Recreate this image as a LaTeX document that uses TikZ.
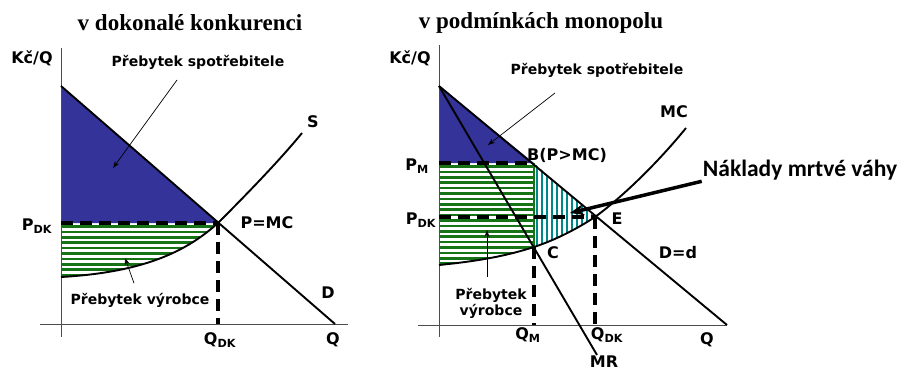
\documentclass[tikz,border=0pt]{standalone}
\usepackage{fontspec}
\setmainfont{DejaVu Sans}
\newfontfamily\titlefont{Liberation Serif}
\newfontfamily\notefont{Carlito}
\usetikzlibrary{arrows.meta}

\definecolor{csblue}{RGB}{51,51,153}
\definecolor{psgreen}{RGB}{22,115,22}
\definecolor{dwteal}{RGB}{0,135,135}

\tikzset{
  axis/.style={line width=0.8pt, black!70},
  curve/.style={line width=1.9pt},
  guide/.style={line width=3.2pt, dash pattern=on 12pt off 7pt},
  lab/.style={font=\bfseries\fontsize{16}{18}\selectfont, inner sep=1pt},
  surplus/.style={font=\bfseries\fontsize{14}{16}\selectfont, inner sep=1pt, align=center},
  headline/.style={font=\titlefont\bfseries\fontsize{23}{25}\selectfont, inner sep=1pt},
  pointer/.style={-{Stealth[length=7pt,width=5pt]}, line width=0.7pt},
  hatchh/.style={psgreen, line width=2.6pt},
  hatchv/.style={dwteal, line width=2pt},
}

\begin{document}
\begin{tikzpicture}[x=1pt, y=-1pt]
    \useasboundingbox (0,0) rectangle (903,372);

    % ---- v dokonale konkurenci ----
    \coordinate (D1top) at (61,86);
    \coordinate (E1) at (218,223);
    \coordinate (D1end) at (335,324);
    \coordinate (S1start) at (61,277);
    \coordinate (S1end) at (302,133);
    \coordinate (P1) at (61,223);
    \coordinate (Q1foot) at (218,324);

    \fill[csblue] (D1top) -- (E1) -- (P1) -- cycle; % Consumer surplus
    \begin{scope}
      \clip (P1) -- (E1) .. controls (190,248) and (150,272) .. (S1start) -- cycle;
      \foreach \y in {226.5,231.9,...,282} \draw[hatchh] (55,\y) -- (225,\y); % Producer surplus
    \end{scope}

    \draw[axis] (61,48) -- (61,337); % Price axis
    \draw[axis] (40,324) -- (348,324); % Quantity axis
    \draw[curve] (D1top) -- (D1end); % Demand
    \draw[curve] (S1start) .. controls (150,272) and (190,248) .. (E1)
                 .. controls (245,196) and (280,160) .. (S1end); % Supply
    \draw[guide] (P1) -- (E1);
    \draw[guide] (E1) -- (Q1foot);

    \node[headline] (title1) at (190,23) {v dokonalé konkurenci};
    \node[lab] (kcq1) at (32,58) {Kč/Q};
    \node[surplus] (cs1lab) at (198,62) {Přebytek spotřebitele};
    \node[lab] (slab) at (313,122) {S};
    \node[lab] (pmc) at (267,223) {P=MC};
    \node[lab] (pdk1) at (37,226) {P\textsubscript{DK}};
    \node[surplus] (ps1lab) at (140,300) {Přebytek výrobce};
    \node[lab] (d1lab) at (328,293) {D};
    \node[lab] (qdk1) at (220,340) {Q\textsubscript{DK}};
    \node[lab] (q1) at (333,340) {Q};

    \coordinate (cs1tail) at (177,80);
    \coordinate (cs1tip) at (113,168);
    \coordinate (ps1tip) at (125,258);
    \draw[pointer] (cs1tail) -- (cs1tip);
    \draw[pointer, shorten <=9pt] (ps1lab) -- (ps1tip);

    % ---- v podminkach monopolu ----
    \coordinate (D2top) at (439,86);
    \coordinate (B) at (534,163);
    \coordinate (E2) at (595,217);
    \coordinate (C) at (534,247);
    \coordinate (D2end) at (727,325);
    \coordinate (MRend) at (597,355);
    \coordinate (MCstart) at (439,265);
    \coordinate (MCend) at (686,128);
    \coordinate (PM) at (439,163);
    \coordinate (P2) at (439,217);
    \coordinate (QMfoot) at (534,325);
    \coordinate (Q2foot) at (595,325);

    \fill[csblue] (D2top) -- (B) -- (PM) -- cycle; % Consumer surplus
    \begin{scope}
      \clip (PM) -- (B) -- (C) .. controls (515,253) and (490,260) .. (MCstart) -- cycle;
      \foreach \y in {166.5,171.9,...,270} \draw[hatchh] (430,\y) -- (540,\y); % Producer surplus
    \end{scope}
    \begin{scope}
      \clip (B) -- (E2) .. controls (575,230) and (555,240) .. (C) -- cycle;
      \foreach \x in {537,542,...,600} \draw[hatchv] (\x,155) -- (\x,255); % Deadweight loss
    \end{scope}
    \draw[psgreen, line width=1.5pt] (B) -- (C);

    \draw[axis] (439,45) -- (439,337); % Price axis
    \draw[axis] (418,325) -- (D2end); % Quantity axis
    \draw[curve] (D2top) -- (D2end); % Demand
    \draw[curve] (D2top) -- (MRend); % Marginal revenue
    \draw[curve] (MCstart) .. controls (490,260) and (515,253) .. (C)
                 .. controls (555,240) and (575,230) .. (E2)
                 .. controls (625,195) and (660,160) .. (MCend); % Marginal cost
    \draw[guide] (PM) -- (B);
    \draw[guide] (P2) -- (E2);
    \draw[guide] (C) -- (QMfoot);
    \draw[guide] (E2) -- (Q2foot);

    \node[headline] (title2) at (541,23) {v podmínkách monopolu};
    \node[lab] (kcq2) at (410,58) {Kč/Q};
    \node[surplus] (cs2lab) at (597,70) {Přebytek spotřebitele};
    \node[lab] (mclab) at (674,112) {MC};
    \node[lab] (blab) at (567,155) {B(P>MC)};
    \node[lab] (pm) at (417,166) {P\textsubscript{M}};
    \node[lab] (pdk2) at (421,220) {P\textsubscript{DK}};
    \node[lab] (elab) at (617,219) {E};
    \node[lab] (clab) at (553,253) {C};
    \node[lab] (dd) at (678,253) {D=d};
    \node[surplus] (ps2lab) at (491,303) {Přebytek\\výrobce};
    \node[lab] (qm) at (528,335) {Q\textsubscript{M}};
    \node[lab] (qdk2) at (607,335) {Q\textsubscript{DK}};
    \node[lab] (q2) at (707,340) {Q};
    \node[lab] (mr) at (604,362) {MR};
    \node[font=\notefont\bfseries\fontsize{23.5}{26}\selectfont, inner sep=1pt] (nmv) at (800,170) {Náklady mrtvé váhy};

    \coordinate (cs2tail) at (555,93);
    \coordinate (cs2tip) at (488,145);
    \coordinate (ps2tip) at (487,230);
    \coordinate (dwtip) at (570,213);
    \draw[pointer] (cs2tail) -- (cs2tip);
    \draw[pointer, shorten <=10pt] (ps2tip |- ps2lab.north) -- (ps2tip);
    \draw[-{Stealth[length=14pt,width=11pt]}, line width=3.5pt] (nmv.south west) -- (dwtip);
\end{tikzpicture}
\end{document}
